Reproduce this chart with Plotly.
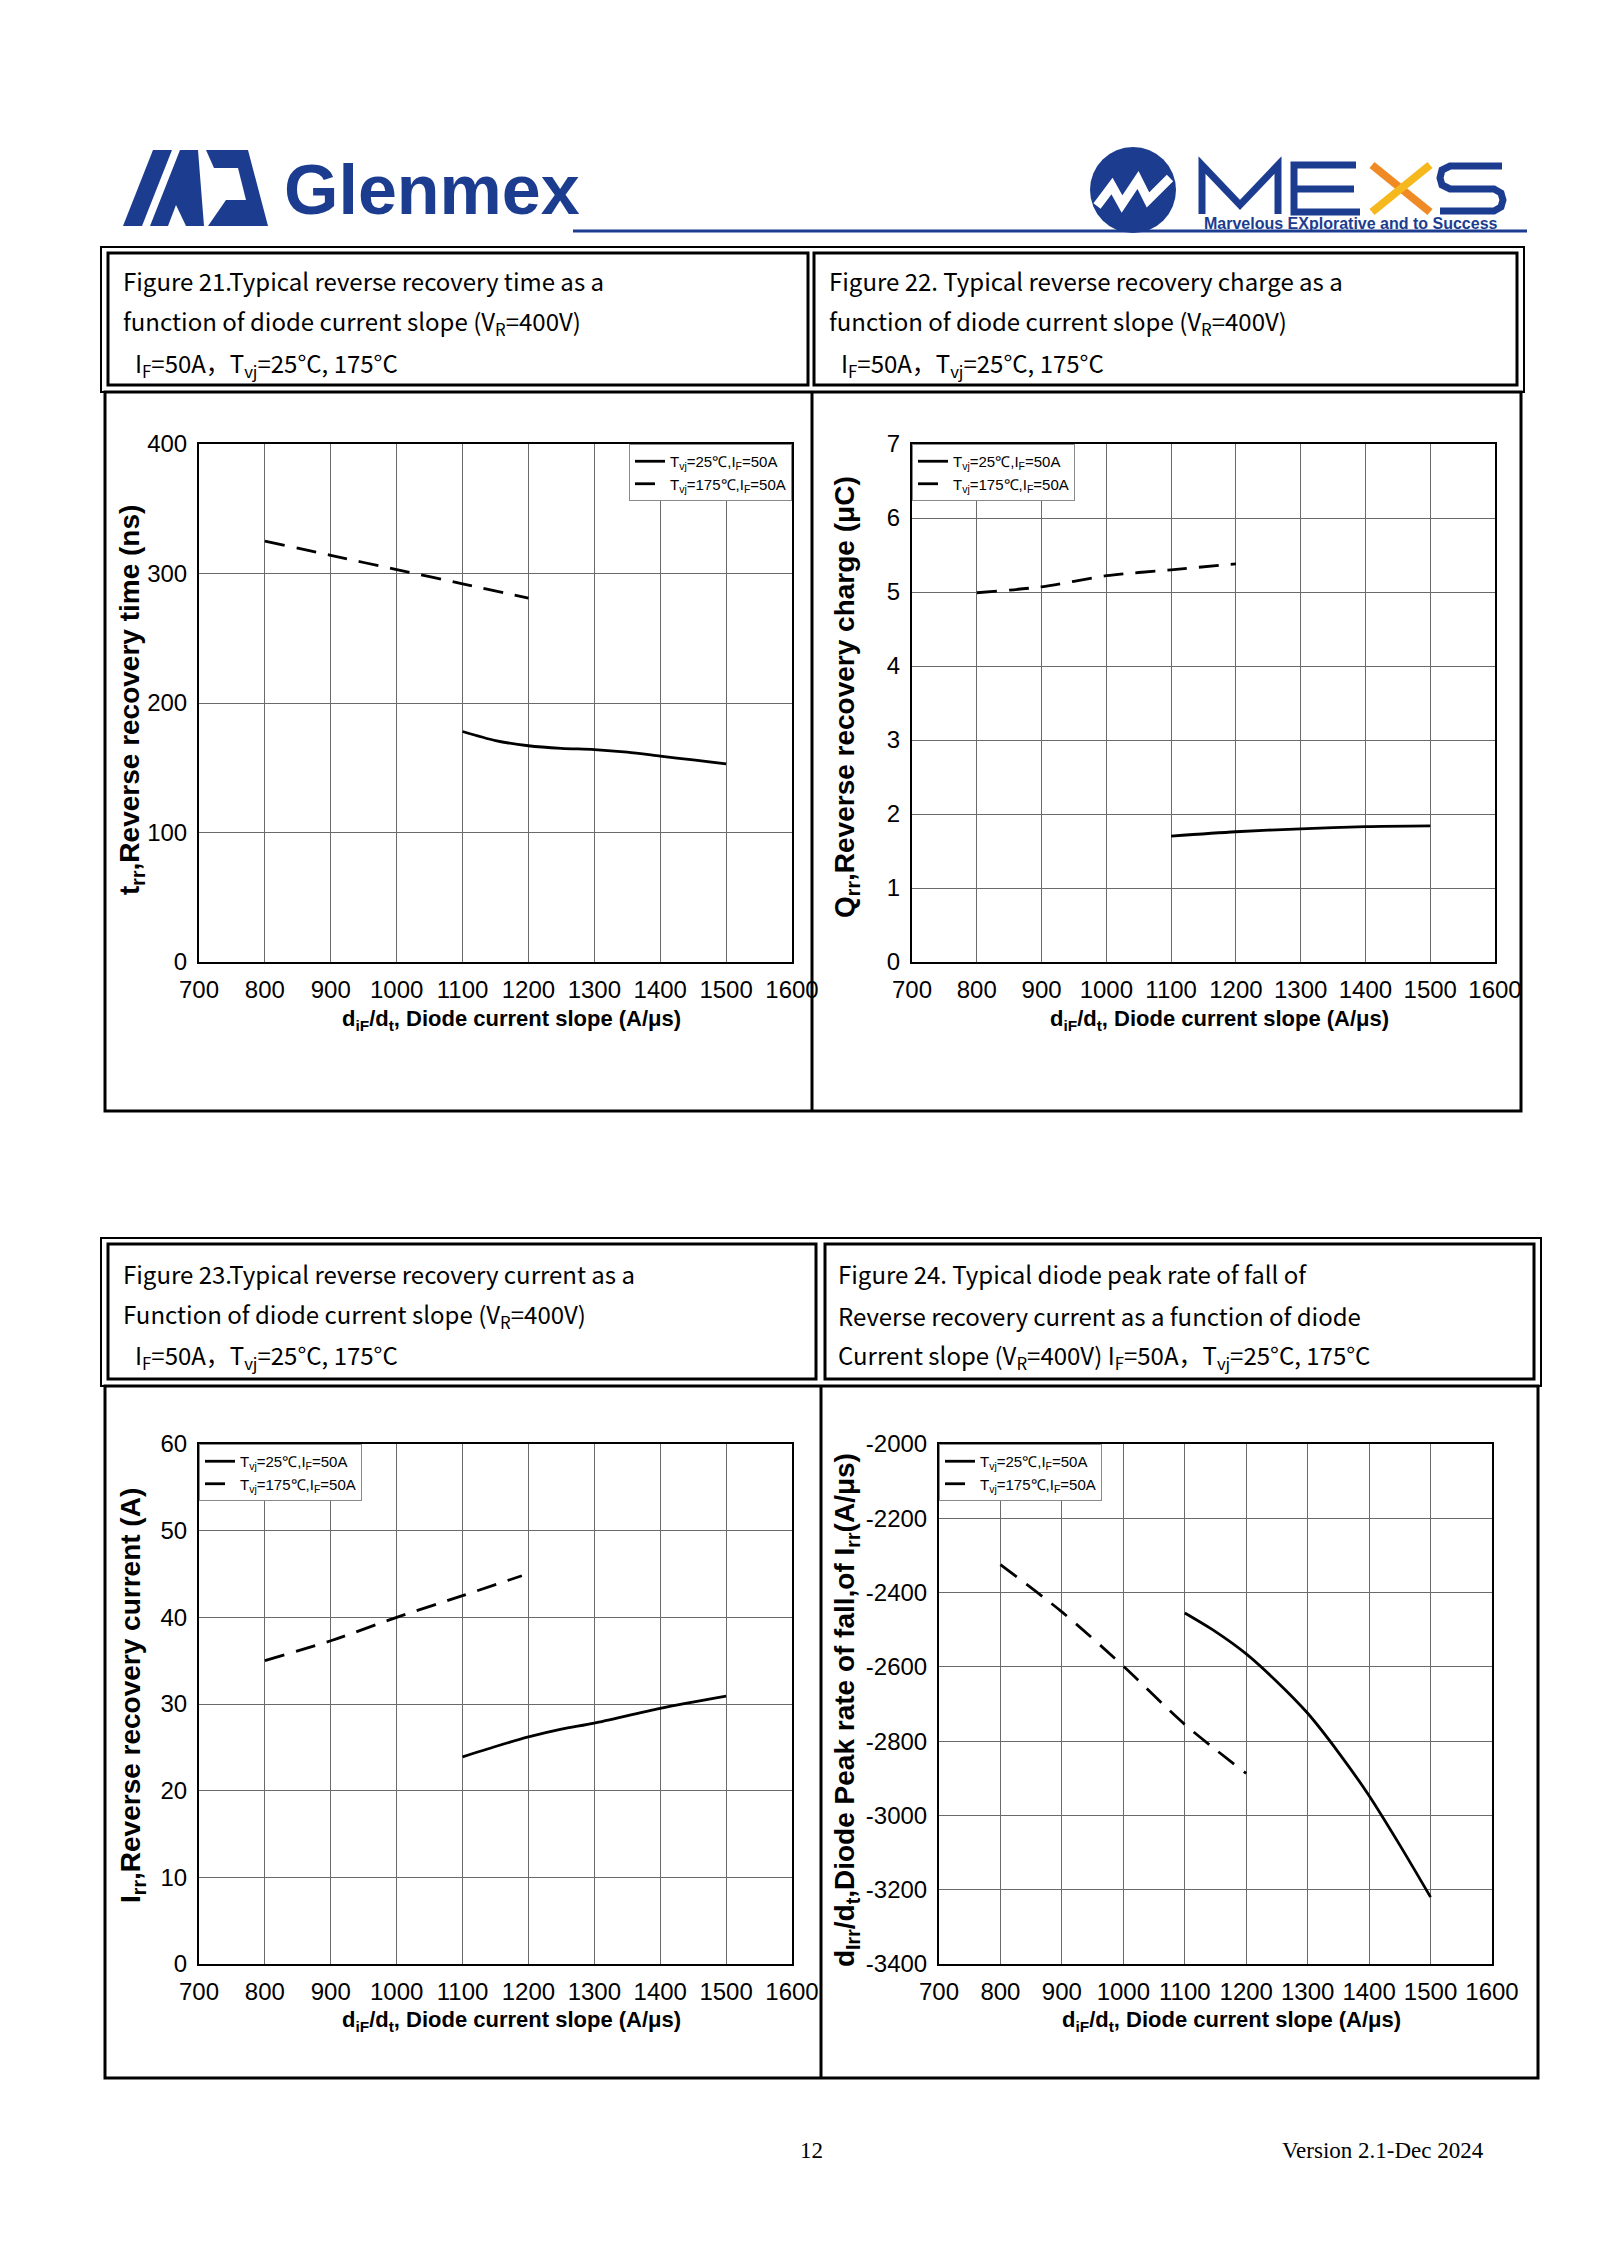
import plotly.graph_objects as go

W, H = 1600, 2263

# ---------------- data ----------------
slope_ticks = [700, 800, 900, 1000, 1100, 1200, 1300, 1400, 1500, 1600]

# Figure 21: reverse recovery time (ns)
trr_25_x = [1100, 1150, 1200, 1250, 1300, 1350, 1400, 1450, 1500]
trr_25_y = [178, 171, 167, 165, 164, 162, 159, 156, 153]
trr_175_x = [800, 900, 1000, 1100, 1200]
trr_175_y = [325, 314, 303, 292, 281]

# Figure 22: reverse recovery charge (uC)
qrr_25_x = [1100, 1200, 1300, 1400, 1500]
qrr_25_y = [1.70, 1.76, 1.80, 1.83, 1.84]
qrr_175_x = [800, 900, 1000, 1100, 1200]
qrr_175_y = [4.99, 5.07, 5.22, 5.30, 5.38]

# Figure 23: reverse recovery current (A)
irr_25_x = [1100, 1150, 1200, 1250, 1300, 1400, 1500]
irr_25_y = [23.9, 25.1, 26.2, 27.1, 27.8, 29.5, 30.9]
irr_175_x = [800, 900, 1000, 1100, 1190]
irr_175_y = [35.0, 37.3, 40.0, 42.5, 44.8]

# Figure 24: peak rate of fall of Irr (A/us)
dirr_25_x = [1100, 1150, 1200, 1250, 1300, 1350, 1400, 1450, 1500]
dirr_25_y = [-2455, -2505, -2565, -2640, -2725, -2830, -2947, -3080, -3220]
dirr_175_x = [800, 900, 1000, 1100, 1200]
dirr_175_y = [-2325, -2452, -2598, -2755, -2887]
dirr_ticks = [-3400, -3200, -3000, -2800, -2600, -2400, -2200, -2000]
dirr_tick_text = ["-3400", "-3200", "-3000", "-2800", "-2600", "-2400", "-2200", "-2000"]

name_25 = "T<sub>vj</sub>=25℃,I<sub>F</sub>=50A"
name_175 = "T<sub>vj</sub>=175℃,I<sub>F</sub>=50A"

# ---------------- helpers ----------------
OFF = 8  # page body margin of the html page

def px(x):
    return (x - OFF) / W

def py(y):
    return 1 - (y - OFF) / H

NARROW = "Liberation Sans Narrow, Arial Narrow, Liberation Sans, Arial, sans-serif"
SANS = "Liberation Sans, Arial, sans-serif"
HEAD = "Noto Sans CJK SC, Noto Sans, sans-serif"
BLUE = "#1c3d8f"

fig = go.Figure()

panels = [
    ("", (199, 792), (444, 962), (trr_25_x, trr_25_y, trr_175_x, trr_175_y), [0, 400], 100, "right"),
    ("2", (912, 1495), (444, 962), (qrr_25_x, qrr_25_y, qrr_175_x, qrr_175_y), [0, 7], 1, "left"),
    ("3", (199, 792), (1444, 1964), (irr_25_x, irr_25_y, irr_175_x, irr_175_y), [0, 60], 10, "left"),
    ("4", (939, 1492), (1444, 1964), (dirr_25_x, dirr_25_y, dirr_175_x, dirr_175_y), [-3400, -2000], 200, "left"),
]

layout_axes = {}
legends = {}
for i, (suf, xd, yd, d, yr, dt, lpos) in enumerate(panels):
    xa = "x" + suf
    ya = "y" + suf
    lg = "legend" + suf
    x25, y25, x175, y175 = d
    fig.add_trace(go.Scatter(
        x=x25, y=y25, mode="lines", name=name_25, xaxis=xa, yaxis=ya, legend=lg,
        line=dict(color="black", width=2.8, shape="spline", smoothing=0.8)))
    fig.add_trace(go.Scatter(
        x=x175, y=y175, mode="lines", name=name_175, xaxis=xa, yaxis=ya, legend=lg,
        line=dict(color="black", width=2.8, dash="20px,12px", shape="spline", smoothing=0.8)))

    xkey = "xaxis" + suf
    ykey = "yaxis" + suf
    layout_axes[xkey] = dict(
        domain=[px(xd[0]), px(xd[1])], anchor=ya, range=[700, 1600],
        tickvals=slope_ticks, showgrid=True, gridcolor="#6a6a6a", gridwidth=1,
        showline=True, linecolor="black", linewidth=2, mirror=True,
        ticks="", zeroline=False, tickangle=0, automargin=False,
        tickfont=dict(family=NARROW, size=24, color="black"), ticklabelstandoff=5,
    )
    yax = dict(
        domain=[py(yd[1]), py(yd[0])], anchor=xa, range=yr, dtick=dt,
        showgrid=True, gridcolor="#6a6a6a", gridwidth=1,
        showline=True, linecolor="black", linewidth=2, mirror=True,
        ticks="", zeroline=False, automargin=False,
        tickfont=dict(family=NARROW, size=24, color="black"), ticklabelstandoff=5,
    )
    if suf == "4":
        yax.pop("dtick")
        yax["tickvals"] = dirr_ticks
        yax["ticktext"] = dirr_tick_text
    layout_axes[ykey] = yax

    if lpos == "right":
        lx, lxa = px(xd[1]), "right"
    else:
        lx, lxa = px(xd[0]), "left"
    legends[lg] = dict(
        x=lx, xanchor=lxa, y=py(yd[0]), yanchor="top",
        bgcolor="white", bordercolor="#8a8a8a", borderwidth=1,
        font=dict(family=NARROW, size=15, color="black"),
        itemwidth=30, tracegroupgap=0,
    )

annotations = []

def text(x, y, s, size, family, color="black", xanchor="left", yanchor="middle", angle=0, bold=False):
    if bold:
        s = "<b>" + s + "</b>"
    annotations.append(dict(
        x=px(x), y=py(y), xref="paper", yref="paper", text=s, showarrow=False,
        xanchor=xanchor, yanchor=yanchor, textangle=angle,
        font=dict(family=family, size=size, color=color)))

# axis titles
ytitles = [
    (132, 700, "t<sub>rr</sub>,Reverse recovery time (ns)"),
    (846, 697, "Q<sub>rr</sub>,Reverse recovery charge (μC)"),
    (132, 1696, "I<sub>rr</sub>,Reverse recovery current (A)"),
    (846, 1710, "d<sub>Irr</sub>/d<sub>t</sub>,Diode Peak rate of fall,of I<sub>rr</sub>(A/μs)"),
]
for x, y, s in ytitles:
    text(x, y, s, 28, SANS, xanchor="center", angle=-90, bold=True)

xt = "d<sub>iF</sub>/d<sub>t</sub>, Diode current slope (A/μs)"
for x, y in [(511, 1020), (1219, 1020), (511, 2021), (1231, 2021)]:
    text(x, y, xt, 22, NARROW, xanchor="center", bold=True)

# header texts
hdr = [
    (121, 280, "Figure 21.Typical reverse recovery time as a"),
    (121, 322, "function of diode current slope (V<sub>R</sub>=400V)"),
    (133, 364, "I<sub>F</sub>=50A，T<sub>vj</sub>=25°C, 175°C"),
    (827, 280, "Figure 22. Typical reverse recovery charge as a"),
    (827, 322, "function of diode current slope (V<sub>R</sub>=400V)"),
    (839, 364, "I<sub>F</sub>=50A，T<sub>vj</sub>=25°C, 175°C"),
    (121, 1273, "Figure 23.Typical reverse recovery current as a"),
    (121, 1315, "Function of diode current slope (V<sub>R</sub>=400V)"),
    (133, 1356, "I<sub>F</sub>=50A，T<sub>vj</sub>=25°C, 175°C"),
    (836, 1273, "Figure 24. Typical diode peak rate of fall of"),
    (836, 1315, "Reverse recovery current as a function of diode"),
    (836, 1356, "Current slope (V<sub>R</sub>=400V) I<sub>F</sub>=50A，T<sub>vj</sub>=25°C, 175°C"),
]
for x, y, s in hdr:
    text(x, y, s, 24, HEAD)

# footer
SERIF = "Liberation Serif, Times New Roman, serif"
text(812, 2150, "12", 23, SERIF, xanchor="center")
text(1486, 2150, "Version 2.1-Dec 2024", 23, SERIF, xanchor="right")

# logo texts
text(282, 190, "Glenmex", 70, NARROW, color=BLUE, bold=True)
text(1351, 224, "Marvelous EXplorative and to Success", 16, NARROW, color=BLUE, xanchor="center", bold=True)

shapes = []

def rect(x0, y0, x1, y1, w, color="black"):
    shapes.append(dict(type="rect", xref="paper", yref="paper",
                       x0=px(x0), y0=py(y0), x1=px(x1), y1=py(y1),
                       line=dict(color=color, width=w), layer="above"))

def line(x0, y0, x1, y1, w, color="black"):
    shapes.append(dict(type="line", xref="paper", yref="paper",
                       x0=px(x0), y0=py(y0), x1=px(x1), y1=py(y1),
                       line=dict(color=color, width=w), layer="above"))

def path(pts, fill=None, stroke=None, w=0, closed=True):
    d = "M" + " L".join(f"{px(a):.5f},{py(b):.5f}" for a, b in pts)
    if closed:
        d += " Z"
    shapes.append(dict(type="path", xref="paper", yref="paper", path=d,
                       fillcolor=fill if fill else "rgba(0,0,0,0)",
                       line=dict(color=stroke if stroke else "rgba(0,0,0,0)", width=w),
                       layer="above"))

# top section frames
rect(101, 247, 1524, 392, 2)
rect(108, 253, 808, 385, 3)
rect(814, 253, 1517, 385, 3)
rect(105, 392, 1521, 1111, 3)
line(812, 392, 812, 1111, 3)

# bottom section frames
rect(101, 1238, 1541, 1386, 2)
rect(108, 1244, 816, 1379, 3)
rect(825, 1244, 1534, 1379, 3)
rect(105, 1386, 1538, 2078, 3)
line(821, 1386, 821, 2078, 3)

# header blue rule
line(573, 231, 1527, 231, 3, BLUE)

# Glenmex mark (stylised slanted bars)
path([(123, 226), (142, 226), (172, 150), (153, 150)], fill=BLUE)
path([(150, 226), (168, 226), (176, 205), (186, 226), (204, 226), (198, 150), (180, 150)], fill=BLUE)
path([(208, 226), (268, 226), (248, 150), (206, 150), (214, 168), (238, 168), (246, 200), (226, 200)], fill=BLUE)

# MEXS circle mark
shapes.append(dict(type="circle", xref="paper", yref="paper",
                   x0=px(1090), y0=py(147), x1=px(1176), y1=py(233),
                   fillcolor=BLUE, line=dict(width=0), layer="above"))
path([(1097, 206), (1112, 186), (1122, 204), (1138, 180), (1148, 200), (1170, 178)],
     stroke="white", w=9, closed=False)

# MEXS letters
path([(1202, 214), (1202, 165), (1240, 205), (1278, 165), (1278, 214)], stroke=BLUE, w=7, closed=False)
path([(1356, 165), (1294, 165), (1294, 212), (1360, 212)], stroke=BLUE, w=7, closed=False)
line(1296, 189, 1354, 189, 7, BLUE)
line(1372, 165, 1430, 212, 8, "#f08a24")
line(1430, 165, 1372, 212, 8, "#f5b91e")
path([(1502, 166), (1450, 166), (1442, 170), (1440, 178), (1442, 185), (1450, 189),
      (1494, 189), (1501, 193), (1503, 200), (1501, 207), (1494, 211), (1440, 211)],
     stroke=BLUE, w=7, closed=False)

fig.update_layout(
    width=W, height=H, margin=dict(l=0, r=0, t=0, b=0, autoexpand=False),
    paper_bgcolor="white", plot_bgcolor="white",
    showlegend=True, annotations=annotations, shapes=shapes,
    **layout_axes, **legends,
)

fig.write_html("out.html")
